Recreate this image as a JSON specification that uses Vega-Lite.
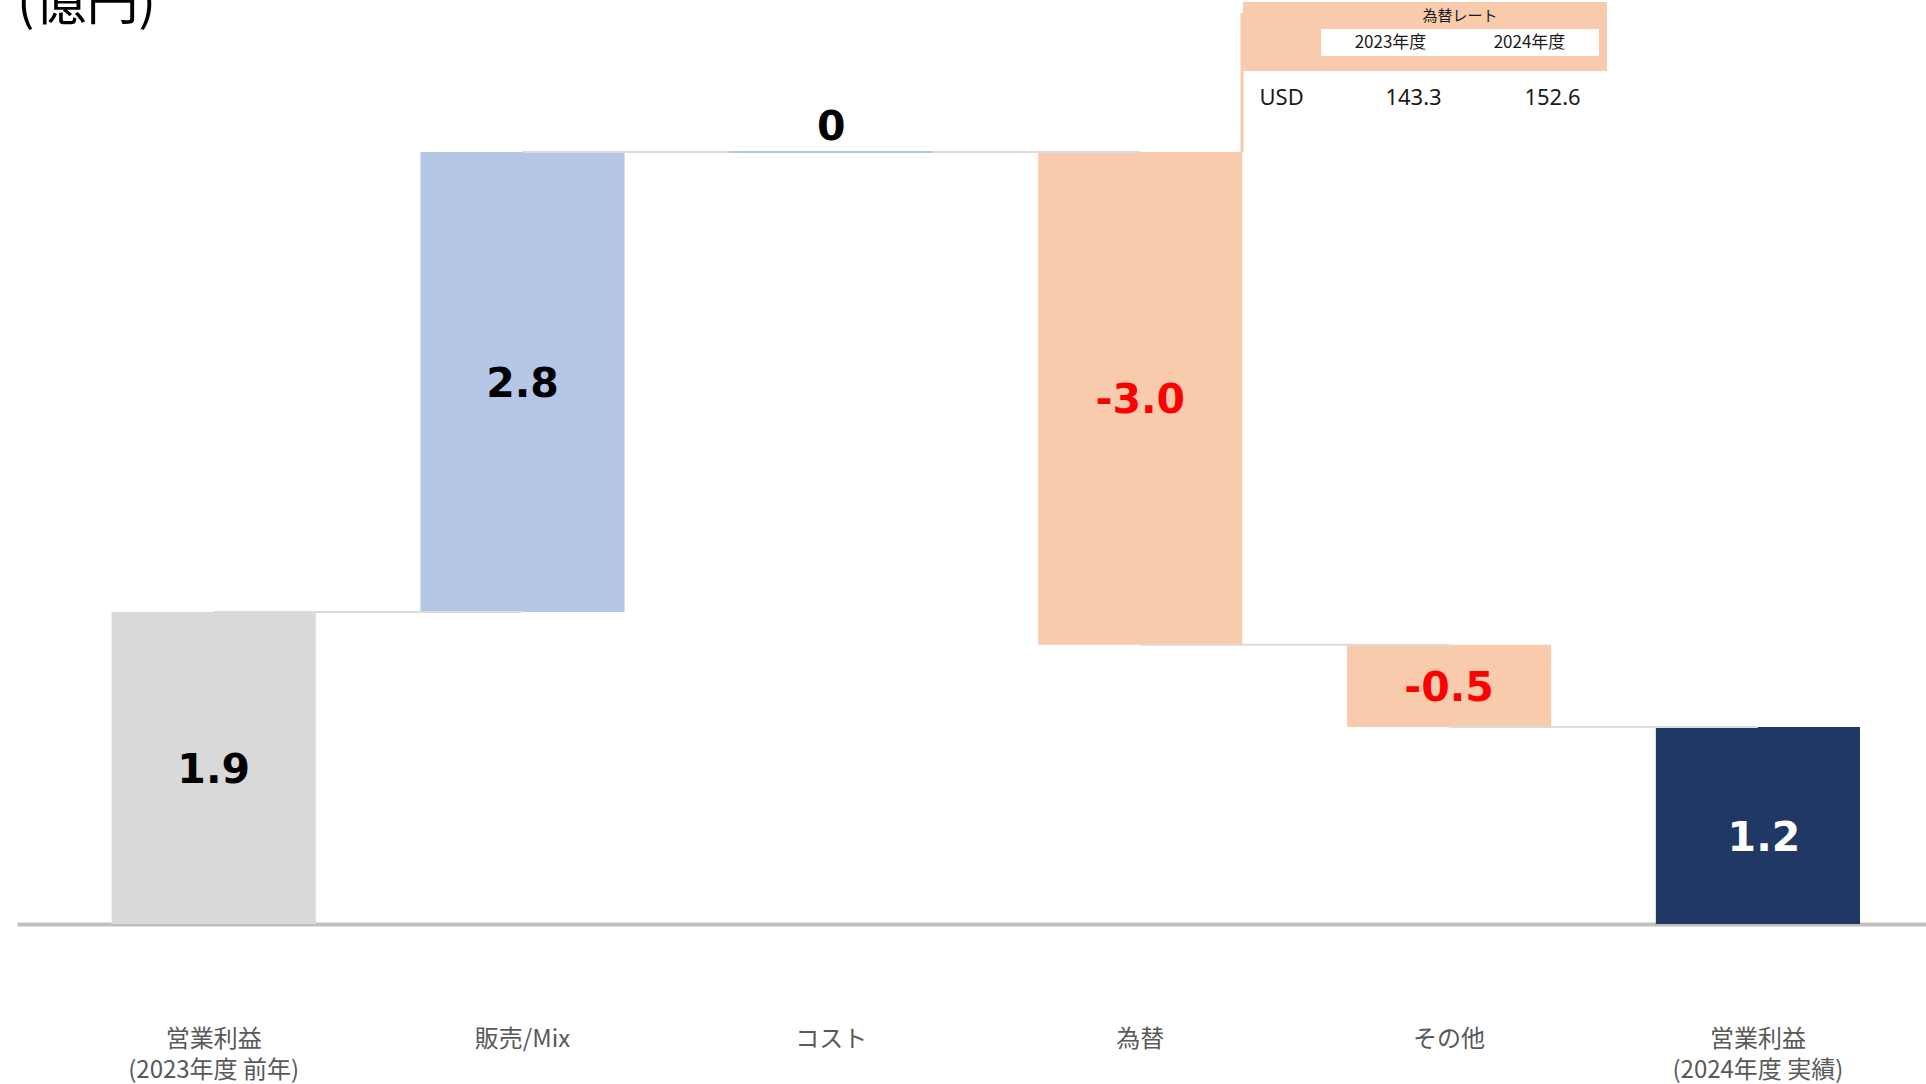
{
  "$schema": "https://vega.github.io/schema/vega-lite/v6.json",
  "width": 1909,
  "height": 924,
  "padding": {"left": 17, "top": 0, "right": 0, "bottom": 160},
  "autosize": {"type": "none"},
  "background": "white",
  "config": {"view": {"stroke": null}},
  "title": {"text": "(億円)", "anchor": "start", "frame": "group", "offset": -72, "baseline": "alphabetic", "font": "Noto Sans CJK JP", "fontSize": 52, "fontWeight": "normal", "color": "#000000"},
  "datasets": {
    "waterfall": [
      {"cat": "営業利益(2023年度 前年)", "kind": "前年", "start": 0, "end": 1.9, "value": "1.9"},
      {"cat": "販売/Mix", "kind": "増加", "start": 1.9, "end": 4.7, "value": "2.8"},
      {"cat": "コスト", "kind": "横ばい", "start": 4.7, "end": 4.7, "value": "0"},
      {"cat": "為替", "kind": "減少", "start": 4.7, "end": 1.7, "value": "-3.0"},
      {"cat": "その他", "kind": "減少", "start": 1.7, "end": 1.2, "value": "-0.5"},
      {"cat": "営業利益(2024年度 実績)", "kind": "実績", "start": 0, "end": 1.2, "value": "1.2"}
    ],
    "rates": [
      {"row": "年度", "col": "2023年度", "text": "2023年度"},
      {"row": "年度", "col": "2024年度", "text": "2024年度"},
      {"row": "USD", "col": "通貨", "text": "USD"},
      {"row": "USD", "col": "2023年度", "text": "143.3"},
      {"row": "USD", "col": "2024年度", "text": "152.6"}
    ]
  },
  "layer": [
    {
      "data": {"name": "waterfall"},
      "layer": [
        {
          "mark": {"type": "bar"},
          "encoding": {
            "x": {
              "field": "cat", "type": "nominal",
              "scale": {
                "domain": ["営業利益(2023年度 前年)", "販売/Mix", "コスト", "為替", "その他", "営業利益(2024年度 実績)"],
                "paddingInner": 0.339, "paddingOuter": 0.26, "align": 0.589
              },
              "axis": {
                "title": null, "ticks": false, "grid": false, "labelAngle": 0,
                "labelFont": "Noto Sans CJK JP", "labelFontSize": 24, "labelColor": "#595959",
                "labelPadding": 103, "labelBaseline": "top", "labelLineHeight": 31, "labelLimit": 400,
                "domainColor": "#bfbfbf", "domainWidth": 4,
                "labelExpr": "indexof(datum.label, '(') > 0 ? [substring(datum.label, 0, indexof(datum.label, '(')), substring(datum.label, indexof(datum.label, '('))] : datum.label"
              }
            },
            "y": {"field": "start", "type": "quantitative", "scale": {"domain": [0, 5.625], "nice": false, "zero": true}, "axis": null},
            "y2": {"field": "end"},
            "color": {
              "field": "kind", "type": "nominal", "legend": null,
              "scale": {"domain": ["前年", "増加", "横ばい", "減少", "実績"], "range": ["#d9d9d9", "#b4c7e7", "#b4c7e7", "#f8cbad", "#203864"]}
            }
          }
        },
        {
          "transform": [
            {"window": [{"op": "lead", "field": "cat", "as": "next"}]},
            {"filter": "isValid(datum.next)"}
          ],
          "mark": {"type": "rule", "color": "#dcdcdc", "strokeWidth": 2},
          "encoding": {
            "x": {"field": "cat", "type": "nominal"},
            "x2": {"field": "next"},
            "y": {"field": "end", "type": "quantitative"}
          }
        },
        {
          "transform": [{"filter": "datum.kind === '横ばい'"}],
          "mark": {"type": "bar", "color": "#b4c7e7", "stroke": "#b4c7e7", "strokeWidth": 2},
          "encoding": {
            "x": {"field": "cat", "type": "nominal"},
            "y": {"field": "start", "type": "quantitative"},
            "y2": {"field": "end"}
          }
        },
        {
          "transform": [
            {"fold": ["start", "end"], "as": ["edge", "level"]},
            {"aggregate": [{"op": "mean", "field": "level", "as": "mid"}], "groupby": ["cat", "kind", "value"]}
          ],
          "layer": [
            {
              "transform": [{"filter": "datum.kind === '前年' || datum.kind === '増加'"}],
              "mark": {"type": "text", "font": "DejaVu Sans", "fontWeight": "bold", "fontSize": 41, "color": "#000000", "baseline": "middle", "dy": 3},
              "encoding": {"x": {"field": "cat", "type": "nominal"}, "y": {"field": "mid", "type": "quantitative"}, "text": {"field": "value"}}
            },
            {
              "transform": [{"filter": "datum.kind === '減少'"}],
              "mark": {"type": "text", "font": "DejaVu Sans", "fontWeight": "bold", "fontSize": 41, "color": "#ff0000", "baseline": "middle", "dy": 3},
              "encoding": {"x": {"field": "cat", "type": "nominal"}, "y": {"field": "mid", "type": "quantitative"}, "text": {"field": "value"}}
            },
            {
              "transform": [{"filter": "datum.kind === '横ばい'"}],
              "mark": {"type": "text", "font": "DejaVu Sans", "fontWeight": "bold", "fontSize": 41, "color": "#000000", "baseline": "alphabetic", "dy": -12},
              "encoding": {"x": {"field": "cat", "type": "nominal"}, "y": {"field": "mid", "type": "quantitative"}, "text": {"field": "value"}}
            },
            {
              "transform": [{"filter": "datum.kind === '実績'"}],
              "mark": {"type": "text", "font": "DejaVu Sans", "fontWeight": "bold", "fontSize": 41, "color": "#ffffff", "baseline": "middle", "dy": 14, "dx": 6},
              "encoding": {"x": {"field": "cat", "type": "nominal"}, "y": {"field": "mid", "type": "quantitative"}, "text": {"field": "value"}}
            }
          ]
        }
      ]
    },
    {
      "layer": [
        {
          "data": {"values": [{}]},
          "mark": {"type": "rect", "color": "#f8cbad", "xOffset": 61, "x2Offset": 8, "y2Offset": 15},
          "encoding": {
            "x": {"datum": "通貨", "type": "nominal", "bandPosition": 0, "axis": null,
                  "scale": {"domain": ["通貨", "2023年度", "2024年度"], "range": [1165, 1582], "paddingInner": 0, "paddingOuter": 0}},
            "x2": {"datum": "2024年度", "bandPosition": 1},
            "y": {"datum": "為替レート", "type": "nominal", "bandPosition": 0, "axis": null,
                  "scale": {"domain": ["為替レート", "年度", "USD"], "range": [2, 83], "paddingInner": 0, "paddingOuter": 0}},
            "y2": {"datum": "年度", "bandPosition": 1}
          }
        },
        {
          "data": {"values": [{}]},
          "mark": {"type": "rect", "color": "#ffffff"},
          "encoding": {
            "x": {"datum": "2023年度", "type": "nominal", "bandPosition": 0},
            "x2": {"datum": "2024年度", "bandPosition": 1},
            "y": {"datum": "年度", "type": "nominal", "bandPosition": 0},
            "y2": {"datum": "年度", "bandPosition": 1}
          }
        },
        {
          "data": {"values": [{}]},
          "mark": {"type": "rule", "color": "#f8cbad", "strokeWidth": 3, "xOffset": 60, "yOffset": 11, "y2Offset": 69},
          "encoding": {
            "x": {"datum": "通貨", "type": "nominal", "bandPosition": 0},
            "y": {"datum": "為替レート", "type": "nominal", "bandPosition": 0},
            "y2": {"datum": "USD", "bandPosition": 1}
          }
        },
        {
          "data": {"values": [{}]},
          "mark": {"type": "text", "font": "Noto Sans CJK JP", "fontSize": 15, "color": "#1a1a1a", "baseline": "middle", "align": "center"},
          "encoding": {
            "x": {"datum": "2023年度", "type": "nominal", "bandPosition": 1},
            "y": {"datum": "為替レート", "type": "nominal", "bandPosition": 0.5},
            "text": {"value": "為替レート"}
          }
        },
        {
          "data": {"name": "rates"},
          "transform": [{"filter": "datum.row === '年度'"}],
          "mark": {"type": "text", "font": "Noto Sans CJK JP", "fontSize": 17, "color": "#1a1a1a", "baseline": "middle", "align": "center"},
          "encoding": {
            "x": {"field": "col", "type": "nominal"},
            "y": {"field": "row", "type": "nominal"},
            "text": {"field": "text"}
          }
        },
        {
          "data": {"name": "rates"},
          "transform": [{"filter": "datum.col === '通貨'"}],
          "mark": {"type": "text", "font": "Noto Sans", "fontSize": 22, "color": "#1a1a1a", "baseline": "middle", "align": "left", "dx": 8, "dy": 28},
          "encoding": {
            "x": {"field": "col", "type": "nominal"},
            "y": {"field": "row", "type": "nominal"},
            "text": {"field": "text"}
          }
        },
        {
          "data": {"name": "rates"},
          "transform": [{"filter": "datum.row === 'USD' && datum.col !== '通貨'"}],
          "mark": {"type": "text", "font": "Noto Sans", "fontSize": 22, "color": "#1a1a1a", "baseline": "middle", "align": "center", "dx": 23, "dy": 28},
          "encoding": {
            "x": {"field": "col", "type": "nominal"},
            "y": {"field": "row", "type": "nominal"},
            "text": {"field": "text"}
          }
        }
      ]
    }
  ],
  "resolve": {"scale": {"x": "independent", "y": "independent"}}
}
